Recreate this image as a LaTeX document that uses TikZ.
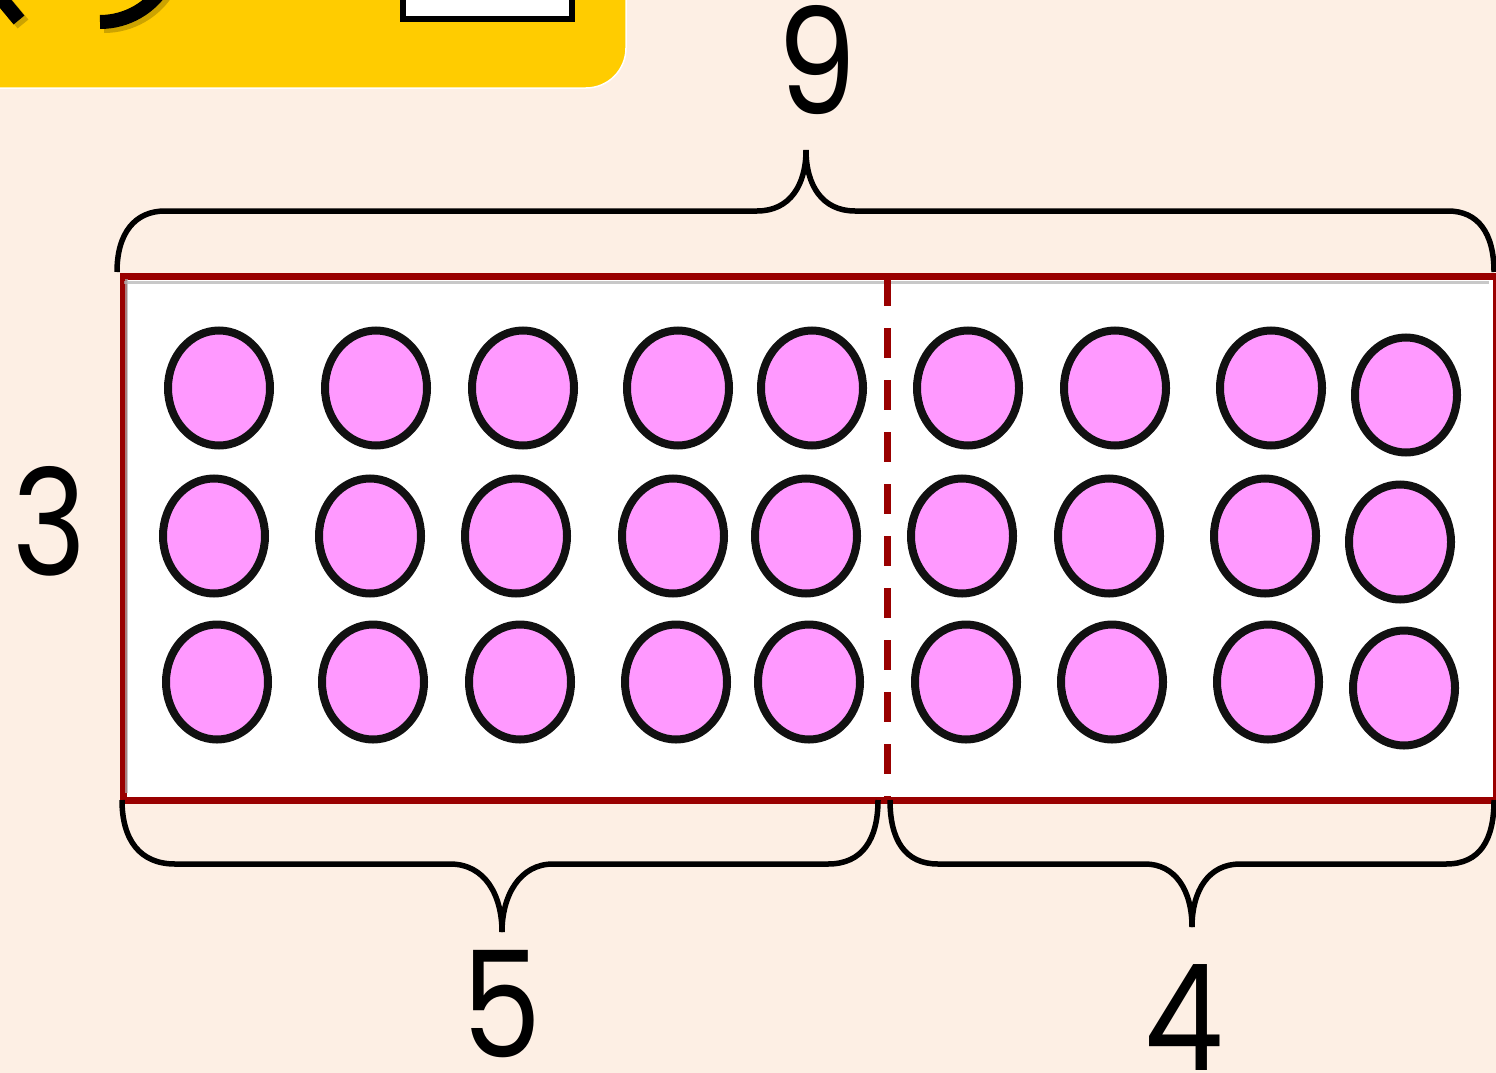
\documentclass[tikz,border=0pt]{standalone}
\usepackage{fontspec}
\setmainfont{Poppins}
\definecolor{bgpeach}{RGB}{253,239,228}
\definecolor{signyellow}{RGB}{255,204,0}
\definecolor{dotpink}{RGB}{255,153,255}
\definecolor{boxred}{RGB}{153,0,0}
\definecolor{inkblack}{RGB}{17,17,17}
\tikzset{
  dotshape/.style={draw=inkblack, line width=8pt, fill=dotpink},
  bracepath/.style={draw=black, line width=5.5pt, line join=round},
  numlabel/.style={inner sep=0pt, xscale=0.85, font=\fontsize{148}{148}\selectfont},
  signstroke/.style={line width=14pt, draw=black},
  signshadow/.style={line width=14pt, draw=black, opacity=0.2}
}
\begin{document}
\begin{tikzpicture}[x=1pt, y=-1pt]
\useasboundingbox (0,0) rectangle (1496,1073);
\clip (0,0) rectangle (1496,1073);
\fill[bgpeach] (0,0) rectangle (1496,1073);

% yellow sign (cropped at top-left)
\draw[white, line width=1.5pt, fill=signyellow, rounded corners=40pt] (-60,-60) rectangle (626,88);
\draw[signshadow] (-16,-23) -- (23,24);
\draw[signstroke] (-20,-27) -- (19,20);
\draw[signshadow] (104,26) arc[start angle=90, end angle=30, radius=75];
\draw[signstroke] (100,22) arc[start angle=90, end angle=30, radius=75];
\draw[line width=6pt, draw=black, fill=white] (403,-20) rectangle (572,19);

% main rectangle
\node[draw=boxred, line width=7pt, fill=white, minimum width=1373pt, minimum height=524pt, inner sep=0pt, anchor=north west] (frame) at (119.5,273) {};
\draw[gray!60, line width=3pt, opacity=0.7] (124,282) -- (1489,282);
\draw[gray!60, line width=3pt, opacity=0.7] (126,279) -- (126,793);
\coordinate (dtop) at (887,276);
\coordinate (dbot) at (887,798);
\draw[boxred, line width=7pt, dash pattern=on 30pt off 22pt] (dtop) -- (dbot);

% dots
\foreach \x/\y in {219/388,376/388,523/388,678/388,812/388,968/388,1115/388,1271/388,1406/395,
  214/536,370/536,516/536,673/536,806/536,962/536,1109/536,1265/536,1400/542,
  217/682,373/682,520/682,676/682,809/682,966/682,1112/682,1268/682,1404/688}
  \draw[dotshape] (\x,\y) ellipse [x radius=51, y radius=57.5];

% braces
\draw[bracepath] (117,272) .. controls (117,233) and (135,211) .. (165,211) -- (757,211)
  .. controls (790,211) and (806,185) .. (806,150);
\draw[bracepath] (806,150) .. controls (806,185) and (822,211) .. (855,211) -- (1448,211)
  .. controls (1478,211) and (1494,233) .. (1494,272);

\draw[bracepath] (122,800) .. controls (122,840) and (140,864) .. (175,864) -- (450,864)
  .. controls (485,864) and (502,895) .. (502,932);
\draw[bracepath] (502,932) .. controls (502,895) and (520,864) .. (553,864) -- (828,864)
  .. controls (862,864) and (878,840) .. (878,800);

\draw[bracepath] (890,800) .. controls (890,840) and (905,864) .. (938,864) -- (1145,864)
  .. controls (1175,864) and (1192,890) .. (1192,927);
\draw[bracepath] (1192,927) .. controls (1192,890) and (1209,864) .. (1240,864) -- (1446,864)
  .. controls (1480,864) and (1494,840) .. (1494,800);

% labels
\node[numlabel] (nine) at (817,60) {9};
\node[numlabel] (three) at (50,521) {3};
\node[numlabel] (five) at (502,1004) {5};
\node[numlabel] (four) at (1184,1018) {4};
\end{tikzpicture}
\end{document}
